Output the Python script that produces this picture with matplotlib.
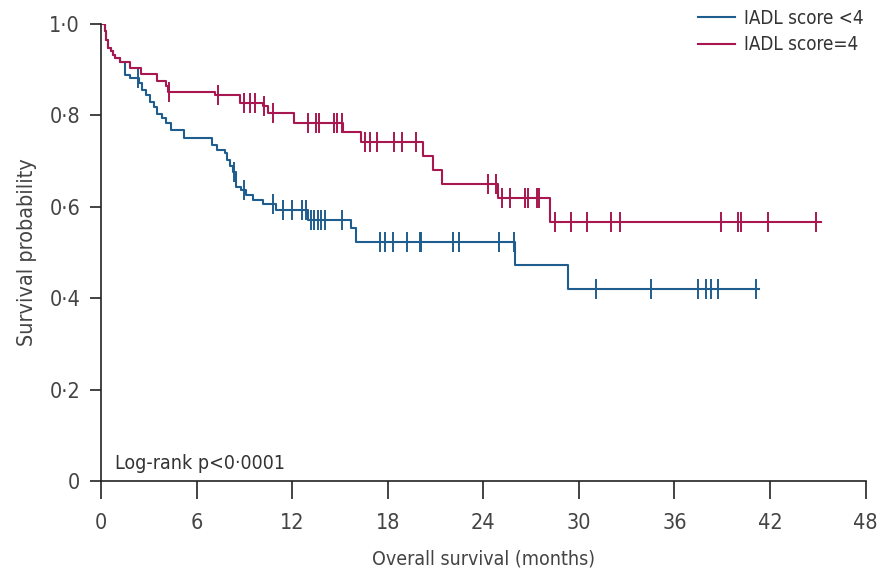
import numpy as np
import matplotlib
matplotlib.use("Agg")
import matplotlib.pyplot as plt

plt.rcParams['font.family'] = ['DejaVu Sans']
plt.rcParams['font.stretch'] = 'condensed'

# Kaplan-Meier step data (event time in months, survival after the step)
t_lt4 = [0, 0.23, 0.33, 0.45, 0.6, 0.75, 0.9, 1.17, 1.5, 1.8, 2.4, 2.6, 2.85, 3.1, 3.3,
         3.5, 3.8, 4.1, 4.4, 5.2, 7.0, 7.3, 7.8, 7.9, 8.1, 8.3, 8.5, 8.8, 9.1, 9.55,
         10.2, 11.0, 13.0, 15.7, 16.0, 26.0, 29.3]
s_lt4 = [1.0, 0.985, 0.966, 0.947, 0.94, 0.933, 0.925, 0.918, 0.889, 0.882, 0.87, 0.856,
         0.845, 0.83, 0.819, 0.804, 0.794, 0.783, 0.768, 0.75, 0.735, 0.724, 0.717, 0.702,
         0.69, 0.677, 0.644, 0.637, 0.626, 0.616, 0.607, 0.593, 0.571, 0.553, 0.524,
         0.473, 0.42]
cens_lt4 = [2.3, 8.35, 9.0, 10.8, 11.4, 12.0, 12.6, 12.9, 13.2, 13.4, 13.6, 13.8, 14.05,
            15.1, 17.5, 17.8, 18.3, 19.2, 20.0, 20.1, 22.1, 22.5, 25.0, 25.9, 31.1, 34.5,
            37.5, 38.0, 38.3, 38.7, 41.1]
end_lt4 = 41.3

t_eq4 = [0, 0.23, 0.33, 0.45, 0.6, 0.75, 0.9, 1.17, 1.8, 2.5, 3.5, 4.1, 4.2, 7.15, 8.7,
         10.2, 10.5, 12.1, 15.2, 16.35, 20.2, 20.85, 21.4, 24.9, 28.2]
s_eq4 = [1.0, 0.985, 0.966, 0.947, 0.94, 0.933, 0.925, 0.918, 0.904, 0.89, 0.876, 0.864,
         0.852, 0.845, 0.828, 0.82, 0.805, 0.783, 0.764, 0.742, 0.711, 0.681, 0.651,
         0.619, 0.567]
cens_eq4 = [4.3, 7.36, 9.0, 9.35, 9.65, 10.25, 10.8, 13.0, 13.5, 13.7, 14.6, 14.8, 15.1,
            16.6, 16.9, 17.3, 18.4, 18.9, 19.8, 24.3, 24.8, 25.2, 25.65, 26.6, 26.8, 27.4,
            27.5, 28.5, 29.5, 30.5, 32.0, 32.6, 38.9, 40.0, 40.2, 41.9, 44.9]
end_eq4 = 45.2

labels = ['IADL score <4', 'IADL score=4']
colors = ['#1f5d8e', '#a8174f']

x_ticks = [0, 6, 12, 18, 24, 30, 36, 42, 48]
y_ticks = [0, 0.2, 0.4, 0.6, 0.8, 1.0]
y_ticklabels = ['0', '0·2', '0·4', '0·6', '0·8', '1·0']

fig = plt.figure(figsize=(8.81, 5.72), dpi=100)
ax = fig.add_axes([0.1146, 0.159, 0.868, 0.799])

groups = [(t_lt4, s_lt4, cens_lt4, end_lt4), (t_eq4, s_eq4, cens_eq4, end_eq4)]
for (t, s, cens, end), lab, col in zip(groups, labels, colors):
    tt = np.append(t, end)
    ss = np.append(s, s[-1])
    ax.step(tt, ss, where='post', color=col, lw=1.5, label=lab)
    idx = np.searchsorted(t, cens, side='right') - 1
    ax.plot(cens, np.array(s)[idx], ls='none', marker='|', ms=15, mew=1.4, color=col)

ax.set_xlim(0, 48)
ax.set_ylim(0, 1.0)
ax.set_xticks(x_ticks)
ax.set_xticklabels([str(v) for v in x_ticks])
ax.set_yticks(y_ticks)
ax.set_yticklabels(y_ticklabels)
for side in ['top', 'right']:
    ax.spines[side].set_visible(False)
for side in ['left', 'bottom']:
    ax.spines[side].set_linewidth(1.2)
    ax.spines[side].set_color('#222222')
ax.tick_params(axis='x', length=13, width=1.2, color='#222222', pad=10,
               labelsize=15.5, labelcolor='#444444')
ax.tick_params(axis='y', length=8, width=1.2, color='#222222', pad=7,
               labelsize=15.5, labelcolor='#444444')
ax.set_xlabel('Overall survival (months)', fontsize=14, color='#444444', labelpad=12)
ax.set_ylabel('Survival probability', fontsize=15.5, color='#444444', labelpad=9)

ax.text(0.9, 0.018, 'Log-rank p<0·0001', fontsize=14, color='#333333',
        ha='left', va='bottom')

leg = ax.legend(loc='upper right', bbox_to_anchor=(1.02, 1.07), frameon=False,
                fontsize=13.5, handlelength=2.0, handletextpad=0.5, labelspacing=0.4)
for txt in leg.get_texts():
    txt.set_color('#333333')

fig.savefig('out.png', dpi=100)
